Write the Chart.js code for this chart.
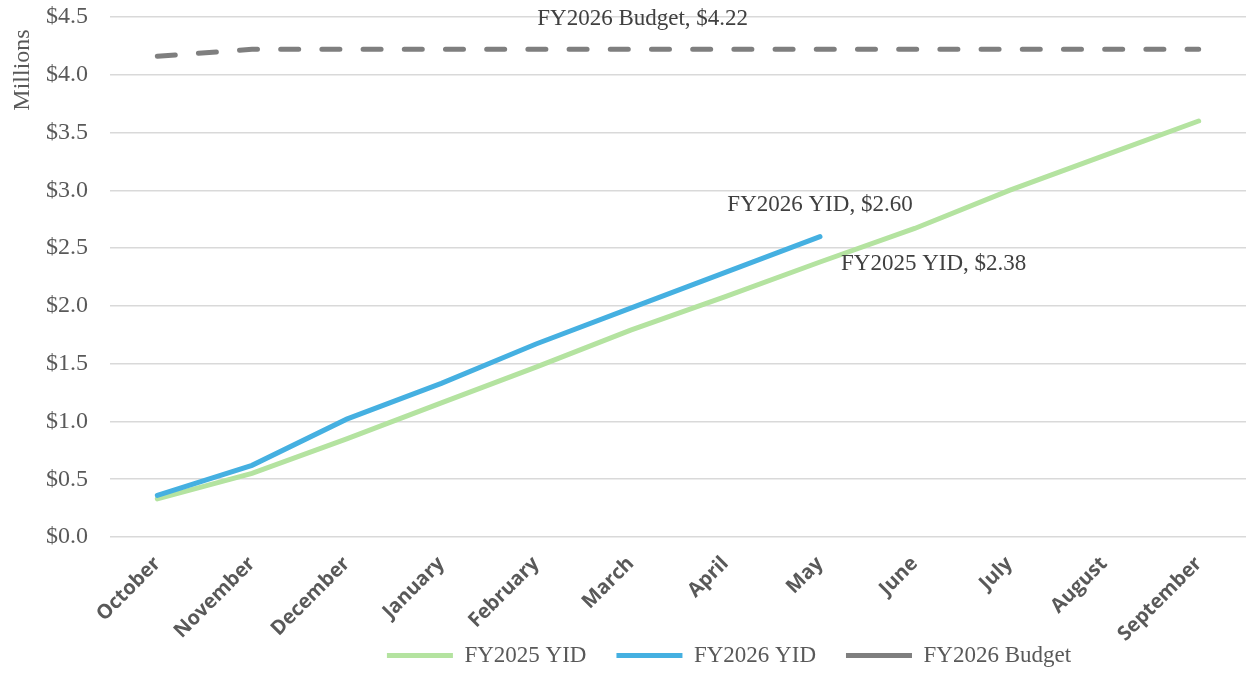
<!DOCTYPE html>
<html>
<head>
<meta charset="utf-8">
<script src="https://cdn.jsdelivr.net/npm/chart.js@4/dist/chart.umd.min.js"></script>
<style>
  html, body { margin: 0; padding: 0; background: #ffffff; }
  #wrap { width: 1246px; height: 677px; }
</style>
</head>
<body>
<div id="wrap"><canvas id="chartYTD" width="1246" height="677"></canvas></div>
<script>
// Chart data
const months = ['October', 'November', 'December', 'January', 'February', 'March',
                'April', 'May', 'June', 'July', 'August', 'September'];
const fy2025 = [0.33, 0.55, 0.85, 1.16, 1.47, 1.79, 2.08, 2.38, 2.67, 3.00, 3.30, 3.60];
const fy2026 = [0.36, 0.62, 1.02, 1.33, 1.67, 1.98, 2.29, 2.60, null, null, null, null];
const budget = [4.16, 4.22, 4.22, 4.22, 4.22, 4.22, 4.22, 4.22, 4.22, 4.22, 4.22, 4.22];
const yMin = 0;
const yMax = 4.5;
const yStep = 0.5;

const serif = '"Liberation Serif", "Times New Roman", serif';
const textGrey = '#595959';
const xAxisHeight = 77;   // month labels hang into the legend strip below
const xLabelOverlap = 60;

// Data labels like Excel's "Series, value"
const labelPlugin = {
    id: 'valueLabels',
    afterLayout(chart) {
        // Excel centres the legend a bit right of the page middle
        chart.legend.left += 106;
        chart.legend.right += 106;
        // let the rotated month names draw below the shrunk axis box
        chart.scales.x.bottom += xLabelOverlap;
    },
    afterDatasetsDraw(chart) {
        const ctx = chart.ctx;
        const marks = [
            { ds: 2, idx: 5, dx: 12, dy: -30, align: 'center' },
            { ds: 1, idx: 7, dx: 0, dy: -32, align: 'center' },
            { ds: 0, idx: 7, dx: 21, dy: 2, align: 'left' }
        ];
        ctx.save();
        ctx.font = '23px ' + serif;
        ctx.fillStyle = '#404040';
        ctx.textBaseline = 'middle';
        marks.forEach(m => {
            const ds = chart.data.datasets[m.ds];
            const pt = chart.getDatasetMeta(m.ds).data[m.idx];
            ctx.textAlign = m.align;
            ctx.fillText(ds.label + ', $' + ds.data[m.idx].toFixed(2), pt.x + m.dx, pt.y + m.dy);
        });

        // "Millions" display-unit label at the top of the value axis
        ctx.translate(23, chart.chartArea.top + 53);
        ctx.rotate(-Math.PI / 2);
        ctx.textAlign = 'center';
        ctx.font = '24px ' + serif;
        ctx.fillStyle = textGrey;
        ctx.fillText('Millions', 0, 0);
        ctx.restore();
    }
};

const ctx = document.getElementById('chartYTD').getContext('2d');

new Chart(ctx, {
    type: 'line',
    data: {
        labels: months,
        datasets: [
            {
                label: 'FY2025 YID',
                data: fy2025,
                borderColor: '#b4e3a0',
                backgroundColor: '#b4e3a0',
                borderWidth: 5,
                borderCapStyle: 'round',
                pointRadius: 0,
                order: 2
            },
            {
                label: 'FY2026 YID',
                data: fy2026,
                borderColor: '#45b0e1',
                backgroundColor: '#45b0e1',
                borderWidth: 5,
                borderCapStyle: 'round',
                pointRadius: 0,
                order: 1
            },
            {
                label: 'FY2026 Budget',
                data: budget,
                borderColor: '#7f7f7f',
                backgroundColor: '#7f7f7f',
                borderWidth: 5,
                borderDash: [18, 23.2],
                borderCapStyle: 'round',
                pointRadius: 0,
                order: 3
            }
        ]
    },
    options: {
        responsive: false,
        animation: false,
        layout: { padding: { top: 17, right: 0, bottom: 0, left: 0 } },
        plugins: {
            tooltip: { enabled: false },
            legend: {
                position: 'bottom',
                labels: {
                    usePointStyle: true,
                    pointStyle: 'line',
                    pointStyleWidth: 66,
                    boxHeight: 10,
                    padding: 30,
                    color: textGrey,
                    font: { family: serif, size: 23 },
                    sort: (a, b) => a.datasetIndex - b.datasetIndex
                }
            }
        },
        scales: {
            x: {
                offset: true,
                afterFit(scale) { scale.height = xAxisHeight; },
                grid: { display: false },
                border: { display: false },
                ticks: {
                    color: textGrey,
                    font: { family: '"Open Sans", sans-serif', size: 20, weight: 'bold' },
                    minRotation: 45,
                    maxRotation: 45,
                    padding: 7
                }
            },
            y: {
                min: yMin,
                max: yMax,
                afterFit(scale) {
                    scale.width = 110;
                    scale.paddingTop = 0;
                    scale.paddingBottom = 0;
                },
                grid: { color: '#d9d9d9', lineWidth: 1.5, drawTicks: false },
                border: { display: false },
                ticks: {
                    stepSize: yStep,
                    padding: 22,
                    color: textGrey,
                    font: { family: serif, size: 24 },
                    callback: v => '$' + v.toFixed(1)
                }
            }
        }
    },
    plugins: [labelPlugin]
});
</script>
</body>
</html>
